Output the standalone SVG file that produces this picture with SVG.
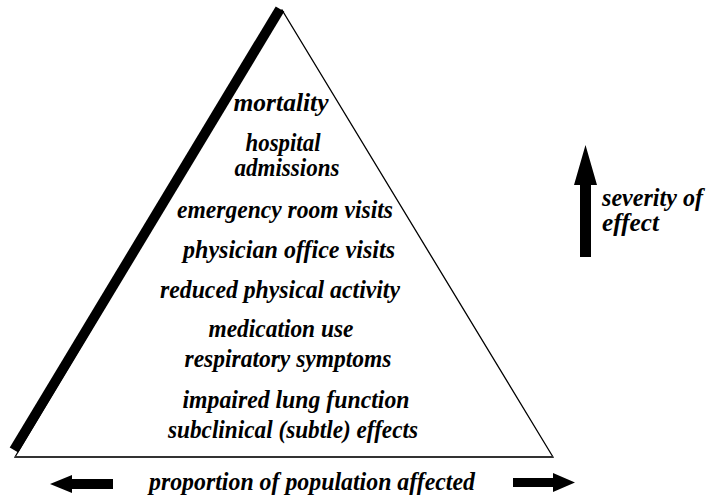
<svg xmlns="http://www.w3.org/2000/svg" width="706" height="495" viewBox="0 0 706 495">
<style>
.t{font-family:"Liberation Serif","Times New Roman",serif;font-size:25px;font-weight:bold;font-style:italic;fill:#000;text-anchor:middle}
.ts{font-family:"Liberation Serif","Times New Roman",serif;font-size:25px;font-weight:bold;font-style:italic;fill:#000;text-anchor:start}
</style>
<rect width="706" height="495" fill="#fff"/>
<g id="pyramid">
<polygon points="15,457 282,10 553,457" fill="#fff" stroke="#000" stroke-width="1.3"/>
<line x1="15" y1="457" x2="553" y2="457" stroke="#333" stroke-width="2"/>
<line x1="14" y1="450" x2="280" y2="9" stroke="#000" stroke-width="10"/>
</g>
<g id="labels">
<text class="t" x="281" y="111" textLength="95" lengthAdjust="spacingAndGlyphs">mortality</text>
<text class="t" x="283" y="151" textLength="75" lengthAdjust="spacingAndGlyphs">hospital</text>
<text class="t" x="287" y="176" textLength="105" lengthAdjust="spacingAndGlyphs">admissions</text>
<text class="t" x="285" y="218" textLength="216" lengthAdjust="spacingAndGlyphs">emergency room visits</text>
<text class="t" x="289" y="258" textLength="212" lengthAdjust="spacingAndGlyphs">physician office visits</text>
<text class="t" x="280" y="298" textLength="240" lengthAdjust="spacingAndGlyphs">reduced physical activity</text>
<text class="t" x="281" y="337" textLength="145" lengthAdjust="spacingAndGlyphs">medication use</text>
<text class="t" x="288" y="367" textLength="207" lengthAdjust="spacingAndGlyphs">respiratory symptoms</text>
<text class="t" x="296" y="408" textLength="227" lengthAdjust="spacingAndGlyphs">impaired lung function</text>
<text class="t" x="293" y="438" textLength="250" lengthAdjust="spacingAndGlyphs">subclinical (subtle) effects</text>
</g>
<g id="severity">
<path d="M585.5,145 L597,185 L591,185 L591,257 L580,257 L580,185 L574,185 Z" fill="#000"/>
<text class="ts" x="602" y="206" textLength="101" lengthAdjust="spacingAndGlyphs">severity of</text>
<text class="ts" x="602" y="231" textLength="57" lengthAdjust="spacingAndGlyphs">effect</text>
</g>
<g id="proportion">
<path d="M50,484 L72,475 L72,479 L113,479 L113,489 L72,489 L72,493 Z" fill="#000"/>
<path d="M575,482.5 L553,473 L553,478 L513,478 L513,487 L553,487 L553,492 Z" fill="#000"/>
<text class="t" x="312" y="490" textLength="326" lengthAdjust="spacingAndGlyphs">proportion of population affected</text>
</g>
</svg>
